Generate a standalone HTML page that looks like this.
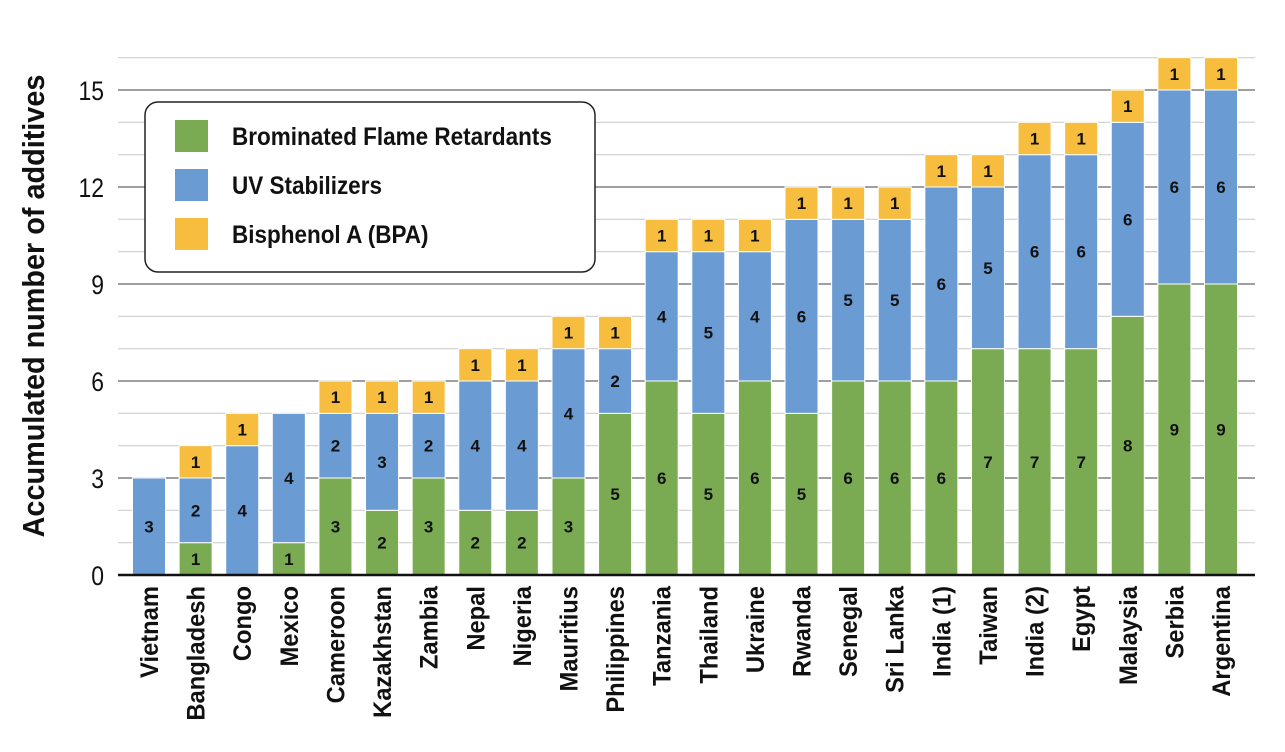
<!DOCTYPE html>
<html><head><meta charset="utf-8"><style>
html,body{margin:0;padding:0;background:#fff;}
svg{display:block;font-family:"Liberation Sans",sans-serif;}
</style></head><body>
<svg id="chart" width="1285" height="752" viewBox="0 0 1285 752" xmlns="http://www.w3.org/2000/svg"></svg>
<script>
const categories=["Vietnam","Bangladesh","Congo","Mexico","Cameroon","Kazakhstan","Zambia","Nepal","Nigeria","Mauritius","Philippines","Tanzania","Thailand","Ukraine","Rwanda","Senegal","Sri Lanka","India (1)","Taiwan","India (2)","Egypt","Malaysia","Serbia","Argentina"];
const bfr=[0,1,0,1,3,2,3,2,2,3,5,6,5,6,5,6,6,6,7,7,7,8,9,9];
const uv=[3,2,4,4,2,3,2,4,4,4,2,4,5,4,6,5,5,6,5,6,6,6,6,6];
const bpa=[0,1,1,0,1,1,1,1,1,1,1,1,1,1,1,1,1,1,1,1,1,1,1,1];
const yTicks=[0,3,6,9,12,15];
const seriesNames=["Brominated Flame Retardants","UV Stabilizers","Bisphenol A (BPA)"];

const NS="http://www.w3.org/2000/svg";
const svg=document.getElementById('chart');
const X0=118,X1=1255,Y0=575,unit=485/15;
const y=v=>Y0-v*unit;
const step=(1221-149)/23;
const xc=i=>149+i*step;
const bw=33;
const colors=["#7aab52","#6a9bd3","#f6bd3e"];
function mk(t,a,p){const e=document.createElementNS(NS,t);for(const k in a)e.setAttribute(k,a[k]);(p||svg).appendChild(e);return e;}

for(let v=1;v<=16;v++){
  const major=v%3===0;
  const g=mk('line',{x1:X0,x2:X1,y1:y(v),y2:y(v),stroke:major?'#666':'#cfcfcf','stroke-width':major?1.3:1.2});
  
  
}
yTicks.forEach(v=>{
  const t=mk('text',{x:0,y:0,'text-anchor':'end','font-size':27,fill:'#111',transform:`translate(104,${y(v)+10}) scale(0.85,1)`});
  t.textContent=v;
  
  
});
categories.forEach((c,i)=>{
  const vals=[bfr[i],uv[i],bpa[i]];let base=0;
  vals.forEach((v,s)=>{
    if(v<=0)return;
    const r=mk('rect',{x:xc(i)-bw/2,y:y(base+v),width:bw,height:v*unit,fill:colors[s],stroke:'#fff','stroke-width':1});
    
    
    const t=mk('text',{x:xc(i),y:y(base+v/2)+6,'text-anchor':'middle','font-size':17,'font-weight':'bold',fill:'#111'});
    t.textContent=v;
    
    
    base+=v;
  });
  const l=mk('text',{x:0,y:0,'text-anchor':'end','font-size':25,'font-weight':'bold',fill:'#111',transform:`translate(${xc(i)+9},586) rotate(-90) scale(0.95,1)`});
  l.textContent=c;
  
  
});
const ax=mk('line',{x1:X0,x2:X1,y1:Y0,y2:Y0,stroke:'#111','stroke-width':2.5});


const yt=mk('text',{x:0,y:0,'text-anchor':'middle','font-size':31,'font-weight':'bold',fill:'#111',transform:'translate(44,306) rotate(-90) scale(0.93,1)'});
yt.textContent='Accumulated number of additives';


const lg=mk('g',{});


mk('rect',{x:145,y:102,width:450,height:170,rx:13,fill:'#fff',stroke:'#222','stroke-width':1.5},lg);
seriesNames.forEach((n,s)=>{
  const g=mk('g',{},lg);
  
  
  mk('rect',{x:175,y:120+s*49,width:33,height:32,fill:colors[s]},g);
  const t=mk('text',{x:0,y:0,'font-size':25,'font-weight':'bold',fill:'#111',transform:`translate(232,${145+s*49}) scale(0.9,1)`},g);
  t.textContent=n;
});
</script>
</body></html>
